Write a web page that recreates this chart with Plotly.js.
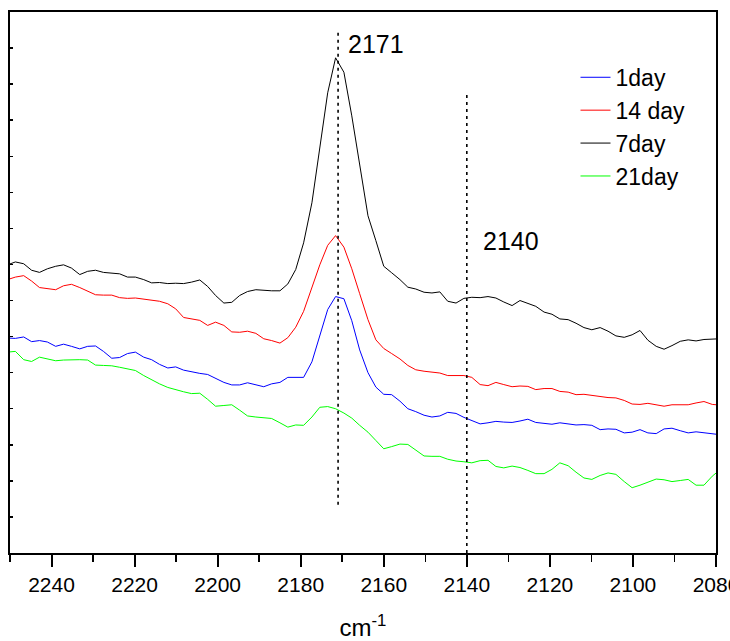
<!DOCTYPE html>
<html>
<head>
<meta charset="utf-8">
<script src="https://cdn.plot.ly/plotly-3.0.1.min.js"></script>
<style>
  html, body { margin: 0; padding: 0; background: #ffffff; }
  #chart { width: 730px; height: 641px; }
</style>
</head>
<body>
<div id="chart"></div>
<script>
// IR spectra in the CO-stretch region (absorbance, arbitrary units, stacked)
const wavenumber = [
  2250.6, 2248.7, 2246.7, 2244.8, 2242.9, 2241.0, 2239.0, 2237.1, 2235.2, 2233.2,
  2231.3, 2229.4, 2227.5, 2225.5, 2223.6, 2221.7, 2219.8, 2217.8, 2215.9, 2214.0,
  2212.0, 2210.1, 2208.2, 2206.3, 2204.3, 2202.4, 2200.5, 2198.5, 2196.6, 2194.7,
  2192.8, 2190.8, 2188.9, 2187.0, 2185.0, 2183.1, 2181.2, 2179.3, 2177.3, 2175.4,
  2173.5, 2171.6, 2169.6, 2167.7, 2165.8, 2163.8, 2161.9, 2160.0, 2158.1, 2156.1,
  2154.2, 2152.3, 2150.3, 2148.4, 2146.5, 2144.6, 2142.6, 2140.7, 2138.8, 2136.8,
  2134.9, 2133.0, 2131.1, 2129.1, 2127.2, 2125.3, 2123.4, 2121.4, 2119.5, 2117.6,
  2115.6, 2113.7, 2111.8, 2109.9, 2107.9, 2106.0, 2104.1, 2102.1, 2100.2, 2098.3,
  2096.4, 2094.4, 2092.5, 2090.6, 2088.6, 2086.7, 2084.8, 2082.9, 2080.9, 2079.0
];

const day1 = [
  0.596, 0.595, 0.599, 0.586, 0.589, 0.585, 0.573, 0.579, 0.573, 0.566,
  0.573, 0.574, 0.559, 0.540, 0.542, 0.553, 0.557, 0.543, 0.536, 0.523,
  0.513, 0.516, 0.507, 0.502, 0.498, 0.495, 0.484, 0.473, 0.466, 0.466,
  0.472, 0.466, 0.461, 0.469, 0.473, 0.487, 0.487, 0.487, 0.530, 0.601,
  0.675, 0.711, 0.705, 0.644, 0.563, 0.500, 0.460, 0.440, 0.439, 0.421,
  0.400, 0.392, 0.382, 0.377, 0.380, 0.390, 0.387, 0.376, 0.367, 0.358,
  0.361, 0.365, 0.363, 0.362, 0.366, 0.371, 0.362, 0.359, 0.357, 0.361,
  0.357, 0.355, 0.356, 0.354, 0.342, 0.344, 0.343, 0.333, 0.335, 0.342,
  0.333, 0.331, 0.344, 0.346, 0.339, 0.333, 0.336, 0.333, 0.330, 0.328
];

const day14 = [
  0.758, 0.765, 0.769, 0.754, 0.736, 0.733, 0.730, 0.741, 0.745, 0.736,
  0.725, 0.716, 0.715, 0.715, 0.708, 0.706, 0.707, 0.704, 0.702, 0.698,
  0.691, 0.677, 0.653, 0.650, 0.645, 0.631, 0.640, 0.631, 0.613, 0.612,
  0.615, 0.609, 0.594, 0.589, 0.582, 0.597, 0.626, 0.670, 0.737, 0.799,
  0.853, 0.880, 0.848, 0.788, 0.719, 0.647, 0.591, 0.567, 0.553, 0.538,
  0.520, 0.508, 0.504, 0.502, 0.499, 0.492, 0.492, 0.492, 0.487, 0.467,
  0.464, 0.473, 0.467, 0.461, 0.463, 0.462, 0.453, 0.456, 0.456, 0.448,
  0.446, 0.439, 0.440, 0.437, 0.432, 0.431, 0.430, 0.423, 0.413, 0.412,
  0.415, 0.411, 0.407, 0.411, 0.411, 0.411, 0.416, 0.420, 0.412, 0.410
];

const day7 = [
  0.799, 0.807, 0.802, 0.784, 0.778, 0.788, 0.795, 0.799, 0.790, 0.772,
  0.781, 0.784, 0.778, 0.776, 0.774, 0.765, 0.765, 0.758, 0.749, 0.750,
  0.747, 0.748, 0.747, 0.751, 0.757, 0.739, 0.714, 0.693, 0.695, 0.714,
  0.725, 0.730, 0.728, 0.727, 0.727, 0.746, 0.786, 0.860, 0.971, 1.124,
  1.276, 1.373, 1.333, 1.212, 1.079, 0.935, 0.866, 0.795, 0.777, 0.758,
  0.737, 0.732, 0.723, 0.721, 0.724, 0.698, 0.693, 0.706, 0.709, 0.708,
  0.711, 0.707, 0.696, 0.686, 0.700, 0.691, 0.684, 0.668, 0.662, 0.649,
  0.647, 0.637, 0.625, 0.619, 0.625, 0.615, 0.602, 0.598, 0.605, 0.617,
  0.590, 0.573, 0.565, 0.575, 0.587, 0.591, 0.588, 0.592, 0.593, 0.594
];

const day21 = [
  0.557, 0.559, 0.536, 0.531, 0.543, 0.538, 0.533, 0.535, 0.536, 0.536,
  0.535, 0.521, 0.520, 0.519, 0.515, 0.511, 0.506, 0.492, 0.480, 0.469,
  0.459, 0.452, 0.447, 0.442, 0.443, 0.426, 0.407, 0.409, 0.411, 0.396,
  0.380, 0.377, 0.375, 0.373, 0.361, 0.349, 0.355, 0.354, 0.377, 0.404,
  0.406, 0.400, 0.388, 0.374, 0.354, 0.335, 0.312, 0.289, 0.295, 0.302,
  0.301, 0.285, 0.269, 0.268, 0.268, 0.260, 0.255, 0.253, 0.250, 0.256,
  0.257, 0.240, 0.236, 0.241, 0.237, 0.229, 0.220, 0.220, 0.232, 0.250,
  0.242, 0.224, 0.208, 0.204, 0.215, 0.222, 0.218, 0.198, 0.181, 0.188,
  0.196, 0.205, 0.203, 0.198, 0.201, 0.204, 0.188, 0.188, 0.213, 0.231
];

const seriesNames = ['1day', '14 day', '7day', '21day'];
const seriesValues = [day1, day14, day7, day21];
const seriesColors = ['#0000ff', '#ff0000', '#000000', '#00ff00'];

// band positions marked with dotted guide lines (cm-1)
const markedBands = [2171, 2140];

const xTickValues = [2240, 2220, 2200, 2180, 2160, 2140, 2120, 2100, 2080];
const xTickLabels = ['2240', '2220', '2200', '2180', '2160', '2140', '2120', '2100', '2080'];

const FONT = 'Liberation Sans, Arial, Helvetica, sans-serif';

const traces = seriesNames.map((name, i) => ({
  type: 'scatter',
  mode: 'lines',
  name: name,
  x: wavenumber,
  y: seriesValues[i],
  line: { color: seriesColors[i], width: 1 },
  hoverinfo: 'x+y+name'
}));

// vertical extent of each guide line in absorbance units
const guideSpans = [[0.134, 1.45], [0, 1.28]];
const labelPlacement = [
  { y: 1.412, xshift: 8 },
  { y: 0.866, xshift: 14 }
];

const shapes = markedBands.map((band, i) => ({
  type: 'line', xref: 'x', yref: 'y',
  x0: band, x1: band, y0: guideSpans[i][0], y1: guideSpans[i][1],
  line: { color: '#000000', width: 1.6, dash: '3px,4px' }
}));

const annotations = markedBands.map((band, i) => ({
  xref: 'x', yref: 'y', x: band, y: labelPlacement[i].y,
  xanchor: 'left', yanchor: 'middle', xshift: labelPlacement[i].xshift,
  text: String(band), showarrow: false,
  font: { family: FONT, size: 25, color: '#000000' }
}));

const layout = {
  width: 730, height: 641,
  margin: { l: 10, r: 14, t: 12, b: 88, pad: 0 },
  paper_bgcolor: '#ffffff', plot_bgcolor: '#ffffff',
  font: { family: FONT, color: '#000000' },
  showlegend: true,
  legend: {
    x: 0.801, y: 0.919, xanchor: 'left', yanchor: 'top',
    bgcolor: 'rgba(0,0,0,0)', borderwidth: 0,
    font: { family: FONT, size: 23, color: '#000000' },
    tracegroupgap: 0
  },
  xaxis: {
    range: [2250, 2080], autorange: false,
    tickmode: 'array', tickvals: xTickValues, ticktext: xTickLabels,
    ticks: 'outside', ticklen: 12, tickwidth: 2, tickcolor: '#000000',
    ticklabeloverflow: 'allow',
    minor: { dtick: 10, tick0: 2080, ticks: 'outside', ticklen: 7, tickwidth: 1.5, tickcolor: '#000000', showgrid: false },
    tickfont: { family: FONT, size: 21, color: '#000000' },
    showline: true, linewidth: 2, linecolor: '#000000', mirror: true,
    showgrid: false, zeroline: false, automargin: false,
    title: { text: 'cm<sup>-1</sup>', font: { family: FONT, size: 24, color: '#000000' }, standoff: 25 }
  },
  yaxis: {
    range: [0, 1.5], autorange: false,
    tick0: 0, dtick: 0.1,
    ticks: 'inside', ticklen: 3, tickwidth: 1.5, tickcolor: '#000000',
    showticklabels: false,
    showline: true, linewidth: 2, linecolor: '#000000', mirror: true,
    showgrid: false, zeroline: false, automargin: false
  },
  shapes: shapes,
  annotations: annotations
};

Plotly.newPlot('chart', traces, layout, { displayModeBar: false, staticPlot: true });
</script>
</body>
</html>
